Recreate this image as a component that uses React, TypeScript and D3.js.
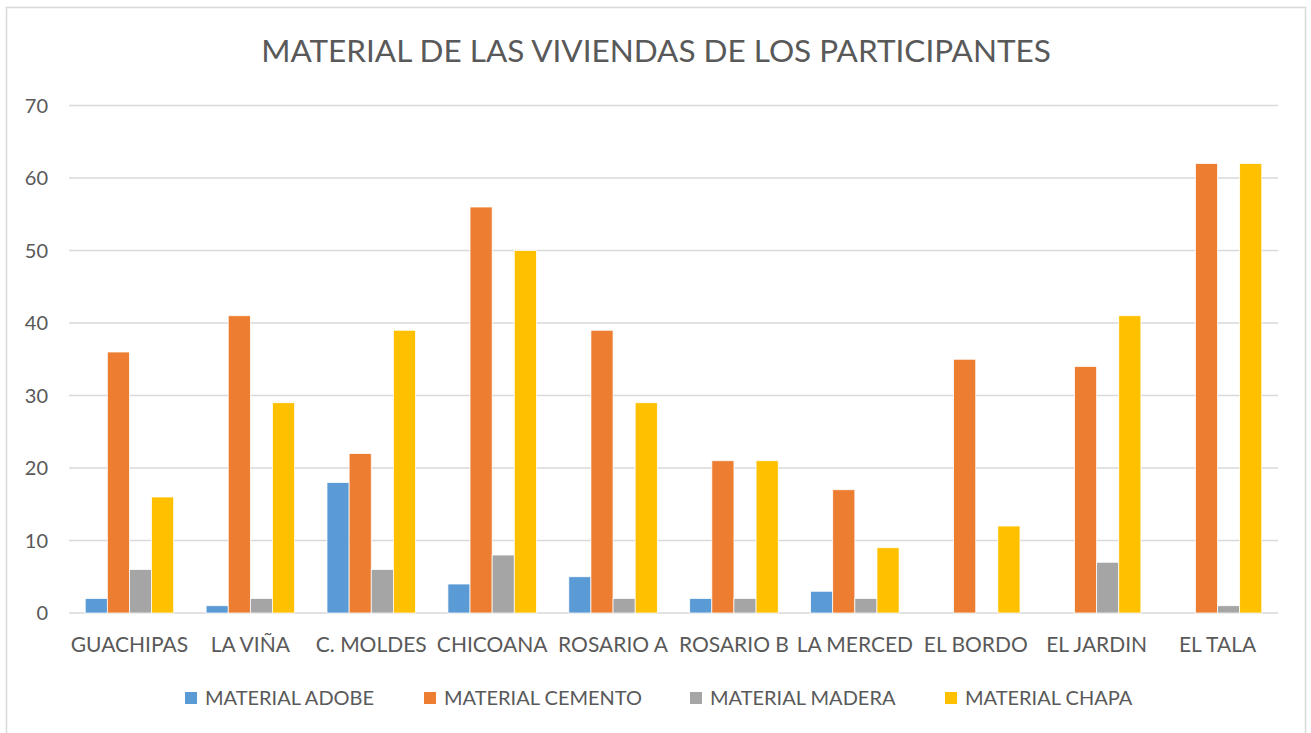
import React from "react";
import * as d3 from "d3";

const categories = ["GUACHIPAS", "LA VIÑA", "C. MOLDES", "CHICOANA", "ROSARIO A", "ROSARIO B", "LA MERCED", "EL BORDO", "EL JARDIN", "EL TALA"];
const seriesNames = ["MATERIAL ADOBE", "MATERIAL CEMENTO", "MATERIAL MADERA", "MATERIAL CHAPA"];
const adobe = [2, 1, 18, 4, 5, 2, 3, 0, 0, 0];
const cemento = [36, 41, 22, 56, 39, 21, 17, 35, 34, 62];
const madera = [6, 2, 6, 8, 2, 2, 2, 0, 7, 1];
const chapa = [16, 29, 39, 50, 29, 21, 9, 12, 41, 62];
const yTicks = [0, 10, 20, 30, 40, 50, 60, 70];
const colors = ["#5B9BD5", "#ED7D31", "#A5A5A5", "#FFC000"];

const W = 1311, H = 733;
const FONT = "Lato, 'Open Sans', sans-serif";
const TXT = "#595959";

export default function App() {
  const series = [adobe, cemento, madera, chapa];
  const x = d3.scaleBand<string>().domain(categories).range([69, 1278]).paddingInner(0.268).paddingOuter(0.134);
  const x1 = d3.scaleBand<number>().domain([0, 1, 2, 3]).range([0, x.bandwidth()]);
  const y = d3.scaleLinear().domain([0, 70]).range([613, 105.5]);
  const legendX = [185, 424, 690, 945];
  return (
    <div style={{ position: "absolute", left: 0, top: 0 }}>
      <svg width={W} height={H} style={{ display: "block", fontFamily: FONT }}>
        <rect x={0} y={0} width={W} height={H} fill="#fff" />
        <rect x={6.5} y={7.5} width={1299} height={740} fill="none" stroke="#D9D9D9" strokeWidth={1.5} />
        <text x={656} y={62} textAnchor="middle" fontSize={31.5} fill={TXT}>MATERIAL DE LAS VIVIENDAS DE LOS PARTICIPANTES</text>
        {yTicks.map(t => (
          <g key={t}>
            <line x1={69} x2={1278} y1={y(t)} y2={y(t)} stroke="#D9D9D9" strokeWidth={1.5} />
            <text x={48} y={y(t)} dy="0.35em" textAnchor="end" fontSize={20} fill={TXT}>{t}</text>
          </g>
        ))}
        {categories.map((c, i) => (
          <g key={c}>
            {series.map((s, j) => (
              s[i] > 0 ? <rect key={j} x={(x(c) as number) + (x1(j) as number)} y={y(s[i])} width={x1.bandwidth()} height={y(0) - y(s[i])} fill={colors[j]} stroke="#fff" strokeWidth={0.75} /> : null
            ))}
            <text x={(x(c) as number) + x.bandwidth() / 2} y={652} textAnchor="middle" fontSize={21} fill={TXT}>{c}</text>
          </g>
        ))}
        {seriesNames.map((n, j) => (
          <g key={n}>
            <rect x={legendX[j]} y={692} width={12} height={12} fill={colors[j]} />
            <text x={legendX[j] + 20} y={705} fontSize={20} fill={TXT}>{n}</text>
          </g>
        ))}
      </svg>
    </div>
  );
}
